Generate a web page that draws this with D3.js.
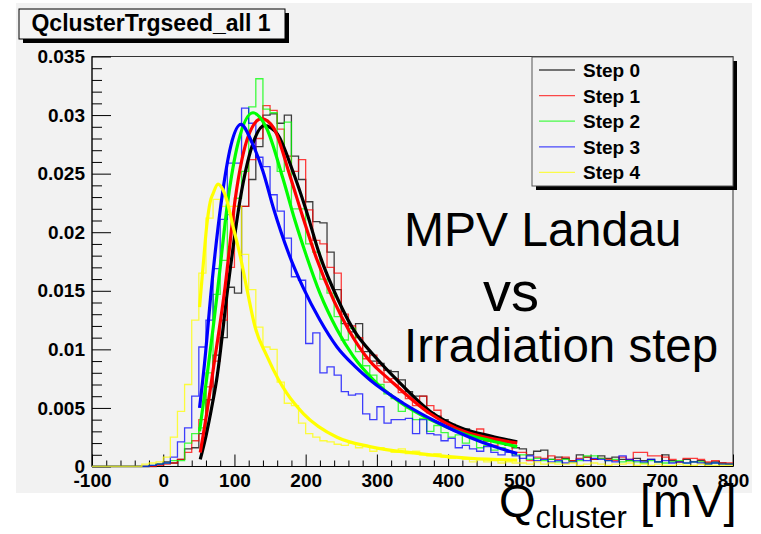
<!DOCTYPE html>
<html>
<head>
<meta charset="utf-8">
<script src="https://cdn.jsdelivr.net/npm/d3@7"></script>
<style>
  html, body { margin: 0; padding: 0; background: #ffffff; }
  svg { display: block; }
  text { font-family: "Liberation Sans", Arial, sans-serif; }
</style>
</head>
<body>
<div id="chart"></div>
<script>
// ---- data ----
const stepNames = ["Step 0", "Step 1", "Step 2", "Step 3", "Step 4"];
const stepColors = ["#000000", "#ff0000", "#00ff00", "#0000ff", "#ffff00"];

// histogram binning, 10 mV bins from -100 to 800
const binWidth = 10;
const binLow = d3.range(-100, 800, binWidth);

const histStep0 = [
  0, 0, 0, 0, 0, 0,
  0, 0, 0, 0.0002,
  0.0004, 0.0003, 0.0006, 0.0015, 0.0016, 0.0028, 0.0057, 0.0095, 0.0110, 0.0153,
  0.0148, 0.0222, 0.0245, 0.0273, 0.0300, 0.0301, 0.0293, 0.0300, 0.0265, 0.0245,
  0.0226, 0.0209, 0.0208, 0.0183, 0.0151, 0.0122, 0.0115, 0.0122, 0.0098, 0.0090,
  0.0088, 0.0082, 0.0081, 0.0074, 0.0064, 0.0060, 0.0060, 0.0046, 0.0043, 0.0040,
  0.0036, 0.0030, 0.0032, 0.0026, 0.0028, 0.0022, 0.0024, 0.0020, 0.0018, 0.0016,
  0.0015, 0.0010, 0.0013, 0.0014, 0.0006, 0.0008, 0.0007, 0.0005, 0.0010, 0.0008,
  0.0006, 0.0009, 0.0007, 0.0008, 0.0006, 0.0005, 0.0007, 0.0005, 0.0006, 0.0004,
  0.0010, 0.0005, 0.0004, 0.0006, 0.0004, 0.0005, 0.0003, 0.0004, 0.0003, 0.0002
];
const histStep1 = [
  0, 0, 0, 0, 0, 0,
  0, 0, 0, 0.0001,
  0.0002, 0.0003, 0.0006, 0.0012, 0.0022, 0.0040, 0.0068, 0.0090, 0.0125, 0.0170,
  0.0222, 0.0222, 0.0262, 0.0280, 0.0308, 0.0304, 0.0288, 0.0265, 0.0252, 0.0262,
  0.0219, 0.0193, 0.0190, 0.0170, 0.0165, 0.0130, 0.0120, 0.0110, 0.0092, 0.0095,
  0.0086, 0.0072, 0.0075, 0.0063, 0.0058, 0.0052, 0.0060, 0.0052, 0.0048, 0.0037,
  0.0035, 0.0030, 0.0029, 0.0027, 0.0032, 0.0022, 0.0018, 0.0022, 0.0020, 0.0012,
  0.0012, 0.0005, 0.0008, 0.0007, 0.0009, 0.0006, 0.0008, 0.0005, 0.0007, 0.0008,
  0.0006, 0.0007, 0.0006, 0.0005, 0.0008, 0.0006, 0.0012, 0.0012, 0.0009, 0.0009,
  0.0008, 0.0006, 0.0004, 0.0007, 0.0007, 0.0006, 0.0004, 0.0005, 0.0003, 0.0003
];
const histStep2 = [
  0, 0, 0, 0, 0, 0,
  0, 0, 0.0001, 0.0002,
  0.0003, 0.0005, 0.0005, 0.0020, 0.0028, 0.0033, 0.0080, 0.0147, 0.0176, 0.0215,
  0.0229, 0.0252, 0.0307, 0.0331, 0.0305, 0.0302, 0.0252, 0.0294, 0.0220, 0.0220,
  0.0190, 0.0183, 0.0160, 0.0148, 0.0128, 0.0108, 0.0118, 0.0098, 0.0086, 0.0078,
  0.0070, 0.0062, 0.0058, 0.0047, 0.0050, 0.0040, 0.0041, 0.0030, 0.0035, 0.0029,
  0.0025, 0.0027, 0.0020, 0.0024, 0.0016, 0.0018, 0.0014, 0.0016, 0.0013, 0.0010,
  0.0010, 0.0006, 0.0007, 0.0005, 0.0006, 0.0004, 0.0006, 0.0004, 0.0005, 0.0009,
  0.0009, 0.0007, 0.0005, 0.0006, 0.0004, 0.0005, 0.0004, 0.0003, 0.0005, 0.0004,
  0.0003, 0.0004, 0.0005, 0.0003, 0.0004, 0.0004, 0.0002, 0.0003, 0.0002, 0.0002
];
const histStep3 = [
  0, 0, 0, 0, 0, 0,
  0, 0, 0.0001, 0.0002,
  0.0003, 0.0008, 0.0021, 0.0033, 0.0060, 0.0102, 0.0125, 0.0169, 0.0211, 0.0259,
  0.0259, 0.0306, 0.0293, 0.0264, 0.0256, 0.0232, 0.0218, 0.0195, 0.0162, 0.0159,
  0.0105, 0.0114, 0.0080, 0.0085, 0.0078, 0.0064, 0.0061, 0.0062, 0.0045, 0.0040,
  0.0051, 0.0037, 0.0040, 0.0040, 0.0041, 0.0028, 0.0040, 0.0028, 0.0027, 0.0022,
  0.0024, 0.0016, 0.0018, 0.0015, 0.0013, 0.0017, 0.0012, 0.0010, 0.0012, 0.0009,
  0.0007, 0.0009, 0.0005, 0.0006, 0.0004, 0.0005, 0.0003, 0.0004, 0.0006, 0.0005,
  0.0007, 0.0006, 0.0005, 0.0004, 0.0009, 0.0006, 0.0005, 0.0004, 0.0006, 0.0004,
  0.0005, 0.0003, 0.0004, 0.0003, 0.0004, 0.0003, 0.0002, 0.0003, 0.0002, 0.0002
];
const histStep4 = [
  0, 0, 0, 0, 0, 0,
  0, 0.0002, 0.0003, 0.0004,
  0.0008, 0.0025, 0.0047, 0.0070, 0.0125, 0.0165, 0.0212, 0.0228, 0.0222, 0.0222,
  0.0222, 0.0181, 0.0151, 0.0119, 0.0102, 0.0100, 0.0072, 0.0054, 0.0052, 0.0037,
  0.0028, 0.0025, 0.0022, 0.0021, 0.0019, 0.0018, 0.0020, 0.0016, 0.0017, 0.0013,
  0.0016, 0.0014, 0.0012, 0.0015, 0.0011, 0.0013, 0.0010, 0.0009, 0.0011, 0.0008,
  0.0007, 0.0008, 0.0006, 0.0004, 0.0006, 0.0004, 0.0005, 0.0003, 0.0004, 0.0003,
  0.0003, 0.0002, 0.0004, 0.0002, 0.0003, 0.0002, 0.0002, 0.0003, 0.0001, 0.0002,
  0.0003, 0.0002, 0.0001, 0.0002, 0.0002, 0.0003, 0.0001, 0.0002, 0.0001, 0.0002,
  0.0001, 0.0001, 0.0002, 0.0001, 0.0001, 0.0002, 0.0001, 0.0001, 0.0001, 0.0001
];

// Landau fits (fit range ~50..500 mV)
const fitStep0X = [52, 60, 67, 75, 91, 108, 125, 142, 160, 182, 200, 220, 245, 267, 300, 328, 375, 422, 460, 497];
const fitStep0Y = [0.0006, 0.0026, 0.0047, 0.0074, 0.0154, 0.0228, 0.0274, 0.0291, 0.0284, 0.0252, 0.0220, 0.0180, 0.0143, 0.0117, 0.0092, 0.0074, 0.0047, 0.0032, 0.0026, 0.0021];
const fitStep1X = [52, 61, 70, 87, 101, 120, 138, 155, 178, 196, 215, 240, 260, 290, 318, 375, 422, 460, 497];
const fitStep1Y = [0.0012, 0.0045, 0.0082, 0.0154, 0.0228, 0.0283, 0.0297, 0.0289, 0.0248, 0.0213, 0.0178, 0.0141, 0.0117, 0.0090, 0.0074, 0.0045, 0.0030, 0.0024, 0.0020];
const fitStep2X = [51, 61, 70, 77, 91, 105, 126, 145, 168, 185, 201, 220, 244, 267, 295, 330, 375, 422, 460, 497];
const fitStep2Y = [0.0030, 0.0075, 0.0118, 0.0154, 0.0228, 0.0276, 0.0302, 0.0289, 0.0246, 0.0210, 0.0180, 0.0148, 0.0117, 0.0094, 0.0074, 0.0056, 0.0040, 0.0028, 0.0022, 0.0017];
const fitStep3X = [51, 58, 68, 82, 95, 109, 125, 140, 155, 176, 197, 220, 244, 270, 290, 337, 384, 430, 465, 497];
const fitStep3Y = [0.0050, 0.0088, 0.0154, 0.0228, 0.0274, 0.0292, 0.0276, 0.0252, 0.0220, 0.0182, 0.0152, 0.0125, 0.0102, 0.0085, 0.0074, 0.0054, 0.0038, 0.0025, 0.0017, 0.0011];
const fitStep4X = [51, 56, 61, 66, 70, 77, 84, 89, 98, 108, 118, 129, 145, 162, 173, 197, 244, 290, 360, 431, 497];
const fitStep4Y = [0.0136, 0.0171, 0.0205, 0.0226, 0.0233, 0.0241, 0.0236, 0.0228, 0.0205, 0.0180, 0.0150, 0.0119, 0.0095, 0.0074, 0.0063, 0.0045, 0.0025, 0.0017, 0.0011, 0.0007, 0.00055];

const xTickValues = [-100, 0, 100, 200, 300, 400, 500, 600, 700, 800];
const xTickLabels = ["-100", "0", "100", "200", "300", "400", "500", "600", "700", "800"];
const xMinorValues = [-80, -60, -40, -20, 20, 40, 60, 80, 120, 140, 160, 180, 220, 240, 260, 280,
  320, 340, 360, 380, 420, 440, 460, 480, 520, 540, 560, 580, 620, 640, 660, 680, 720, 740, 760, 780];
const yTickValues = [0, 0.005, 0.01, 0.015, 0.02, 0.025, 0.03, 0.035];
const yTickLabels = ["0", "0.005", "0.01", "0.015", "0.02", "0.025", "0.03", "0.035"];
const yMinorValues = [0.001, 0.002, 0.003, 0.004, 0.006, 0.007, 0.008, 0.009, 0.011, 0.012, 0.013, 0.014,
  0.016, 0.017, 0.018, 0.019, 0.021, 0.022, 0.023, 0.024, 0.026, 0.027, 0.028, 0.029, 0.031, 0.032, 0.033, 0.034];

const histTitle = "QclusterTrgseed_all 1";

const hists = [histStep0, histStep1, histStep2, histStep3, histStep4];
const fits = [
  [fitStep0X, fitStep0Y], [fitStep1X, fitStep1Y], [fitStep2X, fitStep2Y],
  [fitStep3X, fitStep3Y], [fitStep4X, fitStep4Y]
];

// ---- layout ----
const width = 761, height = 534;
const frame = { left: 92, right: 733, top: 56.5, bottom: 466.5 };
const font = "Liberation Sans, Arial, sans-serif";

const svg = d3.select("#chart").append("svg")
  .attr("width", width)
  .attr("height", height);

// ROOT canvas background
svg.append("rect")
  .attr("x", 16).attr("y", 3)
  .attr("width", 736).attr("height", 490)
  .attr("fill", "#f2f2f2");

const x = d3.scaleLinear().domain([-100, 800]).range([frame.left, frame.right]);
const y = d3.scaleLinear().domain([0, 0.035]).range([frame.bottom, frame.top]);

// frame
svg.append("rect")
  .attr("x", frame.left).attr("y", frame.top)
  .attr("width", frame.right - frame.left)
  .attr("height", frame.bottom - frame.top)
  .attr("fill", "none")
  .attr("stroke", "#333")
  .attr("stroke-width", 1);

// axes
function styleAxis(g) {
  g.attr("font-family", font)
    .attr("font-size", 19)
    .attr("font-weight", "bold")
    .attr("color", "#000");
  g.select(".domain").remove();
}

svg.append("g")
  .attr("transform", `translate(${frame.left},0)`)
  .call(d3.axisLeft(y).tickValues(yTickValues)
    .tickFormat((d, i) => yTickLabels[i])
    .tickSizeInner(-19).tickSizeOuter(0).tickPadding(7))
  .call(styleAxis);

svg.append("g")
  .attr("transform", `translate(${frame.left},0)`)
  .call(d3.axisLeft(y).tickValues(yMinorValues).tickFormat("")
    .tickSizeInner(-10).tickSizeOuter(0))
  .call(styleAxis);

svg.append("g")
  .attr("transform", `translate(0,${frame.bottom})`)
  .call(d3.axisBottom(x).tickValues(xTickValues)
    .tickFormat((d, i) => xTickLabels[i])
    .tickSizeInner(-12).tickSizeOuter(0).tickPadding(7))
  .call(styleAxis);

svg.append("g")
  .attr("transform", `translate(0,${frame.bottom})`)
  .call(d3.axisBottom(x).tickValues(xMinorValues).tickFormat("")
    .tickSizeInner(-6).tickSizeOuter(0))
  .call(styleAxis);

// axis lines
svg.append("line")
  .attr("x1", frame.left).attr("x2", frame.left)
  .attr("y1", frame.top).attr("y2", frame.bottom)
  .attr("stroke", "#000");
svg.append("line")
  .attr("x1", frame.left).attr("x2", frame.right)
  .attr("y1", frame.bottom).attr("y2", frame.bottom)
  .attr("stroke", "#000");

svg.append("clipPath").attr("id", "plotClip")
  .append("rect")
  .attr("x", frame.left).attr("y", frame.top - 1)
  .attr("width", frame.right - frame.left + 1).attr("height", frame.bottom - frame.top + 2);

const plot = svg.append("g").attr("clip-path", "url(#plotClip)");

// histograms
const histLine = d3.line()
  .x(d => x(d[0]))
  .y(d => y(d[1]))
  .curve(d3.curveStepAfter);

hists.forEach((h, i) => {
  const pts = binLow.map((b, j) => [b, h[j]]);
  pts.push([binLow[binLow.length - 1] + binWidth, h[h.length - 1]]);
  plot.append("path")
    .attr("d", histLine(pts))
    .attr("fill", "none")
    .attr("stroke", stepColors[i])
    .attr("stroke-width", 1.3)
    .attr("stroke-opacity", 0.75);
});

// fitted Landau curves
const fitLine = d3.line()
  .x(d => x(d[0]))
  .y(d => y(d[1]))
  .curve(d3.curveMonotoneX);

fits.forEach(([fx, fy], i) => {
  plot.append("path")
    .attr("d", fitLine(fx.map((v, j) => [v, fy[j]])))
    .attr("fill", "none")
    .attr("stroke", stepColors[i])
    .attr("stroke-width", 3.2)
    .attr("stroke-linecap", "butt");
});

// title box
const tb = { x: 19, y: 9, w: 266, h: 30 };
svg.append("rect")
  .attr("x", tb.x + 4).attr("y", tb.y + 4)
  .attr("width", tb.w).attr("height", tb.h)
  .attr("fill", "#000");
svg.append("rect")
  .attr("x", tb.x).attr("y", tb.y)
  .attr("width", tb.w).attr("height", tb.h)
  .attr("fill", "#f4f4f4")
  .attr("stroke", "#000")
  .attr("stroke-width", 1);
svg.append("text")
  .attr("x", tb.x + tb.w / 2 - 1).attr("y", tb.y + 22)
  .attr("text-anchor", "middle")
  .attr("font-size", 23)
  .attr("font-weight", "bold")
  .text(histTitle);

// legend
const lg = { x: 532, y: 57, w: 201, h: 129 };
svg.append("rect")
  .attr("x", lg.x + 4).attr("y", lg.y + 4)
  .attr("width", lg.w).attr("height", lg.h)
  .attr("fill", "#000");
svg.append("rect")
  .attr("x", lg.x).attr("y", lg.y)
  .attr("width", lg.w).attr("height", lg.h)
  .attr("fill", "#f2f2f2")
  .attr("stroke", "#555")
  .attr("stroke-width", 1);

const legendRows = svg.append("g")
  .selectAll("g")
  .data(stepNames)
  .join("g")
  .attr("transform", (d, i) => `translate(${lg.x},${lg.y + 13 + i * 25.6})`);

legendRows.append("line")
  .attr("x1", 7).attr("x2", 43)
  .attr("stroke", (d, i) => stepColors[i])
  .attr("stroke-width", 1.3)
  .attr("stroke-opacity", 0.7);

legendRows.append("text")
  .attr("x", 51).attr("y", 7)
  .attr("font-size", 19)
  .attr("font-weight", "bold")
  .text(d => d);

// annotation
const note = svg.append("g").attr("fill", "#000");
note.append("text").attr("x", 404).attr("y", 246).attr("font-size", 48).text("MPV Landau");
note.append("text").attr("x", 483).attr("y", 311).attr("font-size", 56).text("vs");
note.append("text").attr("x", 404).attr("y", 362).attr("font-size", 47.5).text("Irradiation step");

// x-axis title
const xt = svg.append("text").attr("x", 499).attr("y", 517).attr("font-size", 47);
xt.append("tspan").text("Q");
xt.append("tspan").attr("font-size", 31).attr("dy", 11).text("cluster");
xt.append("tspan").attr("dy", -11).text(" [mV]");
</script>
</body>
</html>
